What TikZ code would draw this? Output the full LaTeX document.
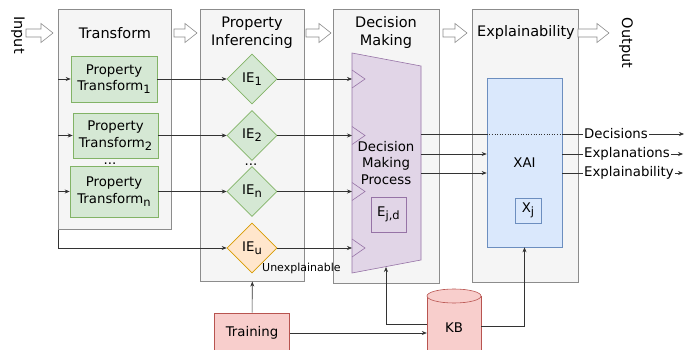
\documentclass[tikz,border=0pt]{standalone}
\usepackage{fontspec}
\setmainfont{DejaVu Sans}
\usetikzlibrary{shapes,arrows,arrows.meta,positioning}

\definecolor{panelfill}{HTML}{F5F5F5}
\definecolor{paneldraw}{HTML}{8C8C8C}
\definecolor{greenfill}{HTML}{D5E8D4}
\definecolor{greendraw}{HTML}{82B366}
\definecolor{orangefill}{HTML}{FFE6CC}
\definecolor{orangedraw}{HTML}{D79B00}
\definecolor{purplefill}{HTML}{E1D5E7}
\definecolor{purpledraw}{HTML}{9673A6}
\definecolor{bluefill}{HTML}{DAE8FC}
\definecolor{bluedraw}{HTML}{6C8EBF}
\definecolor{redfill}{HTML}{F8CECC}
\definecolor{reddraw}{HTML}{B85450}
\definecolor{linedark}{HTML}{333333}

% lowered index, as in IE_1
\newcommand{\dn}[1]{\raisebox{-0.4ex}{\fontsize{11.5}{12}\selectfont #1}}
% hollow block arrow from x=#1 to x=#2 at height #3
\newcommand{\fatarrow}[3]{%
  \draw[hollow] (#1,#3-4) -- (#2-12,#3-4) -- (#2-12,#3-9.5) -- (#2,#3)
    -- (#2-12,#3+9.5) -- (#2-12,#3+4) -- (#1,#3+4) -- cycle;}

\begin{document}
\begin{tikzpicture}[x=1pt, y=-1pt,
    font=\fontsize{13.3}{16.5}\selectfont,
    panel/.style={rectangle, draw=paneldraw, fill=panelfill, anchor=north west, line width=0.6pt},
    title/.style={font=\fontsize{14.5}{18}\selectfont, align=center},
    ptbox/.style={rectangle, draw=greendraw, fill=greenfill, align=center, inner sep=0pt, line width=0.6pt},
    ie/.style={diamond, draw=greendraw, fill=greenfill, minimum width=50pt, minimum height=50pt, aspect=1, inner sep=0pt, line width=0.6pt},
    arrow/.style={->, >={Stealth[length=5pt, width=4pt]}, line width=0.6pt, draw=linedark},
    line/.style={line width=0.6pt, draw=linedark},
    hollow/.style={draw=paneldraw, fill=white, line width=0.6pt},
    outlabel/.style={anchor=west, inner sep=1pt}
]
\useasboundingbox (0,0) rectangle (694,350);

% Stage panels
\node[panel, minimum width=113pt, minimum height=220pt] (tf) at (58,9) {};
\node[panel, minimum width=104pt, minimum height=272pt] (pi) at (200,9) {};
\node[panel, minimum width=106pt, minimum height=274pt] (dm) at (333,9) {};
\node[panel, minimum width=106pt, minimum height=273pt] (ex) at (472,9) {};

\node[title] (tftitle) at (115,33) {Transform};
\node[title] (pititle) at (252,33) {Property\\Inferencing};
\node[title] (dmtitle) at (386,33) {Decision\\Making};
\node[title] (extitle) at (526,33) {Explainability};

% Input, output and the flow between stages
\node[title, rotate=-90] (input) at (18,35) {Input};
\node[title, rotate=-90] (output) at (626,43) {Output};
\fatarrow{26}{53}{33}
\fatarrow{174}{197}{33}
\fatarrow{306}{331}{33}
\fatarrow{443}{467}{33}
\fatarrow{578}{609}{33}

% Property transforms
\node[ptbox, minimum width=86pt, minimum height=46pt] (pt1) at (114,79) {Property\\Transform\dn{1}};
\node[ptbox, minimum width=85pt, minimum height=45pt] (pt2) at (115.5,135.5) {Property\\Transform\dn{2}};
\node (tfdots) at (110,164) {...};
\node[ptbox, minimum width=88pt, minimum height=51pt] (ptn) at (114,191.5) {Property\\Transform\dn{n}};

% Inference engines
\node[ie] (ie1) at (252,79) {IE\dn{1}};
\node[ie] (ie2) at (252,135.5) {IE\dn{2}};
\node (pidots) at (251,165) {...};
\node[ie] (ien) at (252,191.5) {IE\dn{n}};
\node[ie, draw=orangedraw, fill=orangefill] (ieu) at (252,248) {IE\dn{u}};
\node[font=\fontsize{11}{13}\selectfont, anchor=west, inner sep=0pt] (unexp) at (262,268) {Unexplainable};

% Decision making process
\draw[purpledraw, fill=purplefill, line width=0.6pt] (352,53) -- (421,66) -- (421,260) -- (352,273) -- cycle;
\foreach \y in {79,135.5,191.5,248}
  \draw[purpledraw, line width=0.6pt] (352,\y-9) -- (365,\y) -- (352,\y+9);
\node[align=center, inner sep=0pt] (dmp) at (386,163) {Decision\\Making\\Process};
\node[draw=purpledraw, line width=0.6pt, minimum width=35pt, minimum height=35pt, inner sep=0pt] (ejd) at (388.5,214.5) {E\dn{j,d}};

\coordinate (p1) at (352,79);
\coordinate (p2) at (352,135.5);
\coordinate (pn) at (352,191.5);
\coordinate (pu) at (352,248);
\coordinate (o1) at (421,134);
\coordinate (o2) at (421,154);
\coordinate (o3) at (421,173);
\coordinate (dmin) at (386,267);

% XAI
\node[draw=bluedraw, fill=bluefill, line width=0.6pt, minimum width=75pt, minimum height=169pt] (xai) at (524.5,162.5) {XAI};
\node[draw=bluedraw, line width=0.6pt, minimum width=26pt, minimum height=25pt, inner sep=0pt] (xj) at (528,210.5) {X\dn{j}};

\node[outlabel] (dec) at (583,134) {Decisions};
\node[outlabel] (expn) at (583,154) {Explanations};
\node[outlabel] (expb) at (583,173) {Explainability};
\coordinate (decend) at (684,134);
\coordinate (expnend) at (683,154);
\coordinate (expbend) at (683,173);

% Training and knowledge base
\node[draw=reddraw, fill=redfill, line width=0.6pt, minimum width=75pt, minimum height=40pt] (train) at (252,333) {Training};
\fill[redfill] (427,296) rectangle (481,360);
\draw[reddraw, line width=0.6pt] (427,296) -- (427,360) (481,296) -- (481,360);
\draw[reddraw, fill=redfill, line width=0.6pt] (454,296) ellipse[x radius=27, y radius=7];
\node[minimum width=54pt, minimum height=50pt] (kb) at (454,328) {KB};

% Connections
\draw[arrow] (tf.west |- pt1) -- (pt1);
\draw[arrow] (tf.west |- pt2) -- (pt2);
\draw[arrow] (tf.west |- ptn) -- (ptn);
\draw[arrow] (tf.south west) |- (ieu);

\draw[arrow] (pt1) -- (ie1);
\draw[arrow] (pt2) -- (ie2);
\draw[arrow] (ptn) -- (ien);

\draw[arrow] (ie1) -- (p1);
\draw[arrow] (ie2) -- (p2);
\draw[arrow] (ien) -- (pn);
\draw[arrow] (ieu) -- (pu);

\draw[line] (o1) -- (xai.west |- o1);
\draw[line, dotted] (xai.west |- o1) -- (xai.east |- o1);
\draw[line] (xai.east |- o1) -- (dec);
\draw[arrow] (o2) -- (xai.west |- o2);
\draw[arrow] (o3) -- (xai.west |- o3);
\draw[line] (xai.east |- expn) -- (expn);
\draw[line] (xai.east |- expb) -- (expb);
\draw[arrow] (dec) -- (decend);
\draw[arrow] (expn) -- (expnend);
\draw[arrow] (expb) -- (expbend);

\draw[arrow] (train) -- (pi.south);
\draw[arrow] (train) -- (kb.west |- train);
\draw[arrow] ([yshift=4pt]kb.west) -| (dmin);
\draw[arrow] ([yshift=2pt]kb.east) -| (xai.south);

\end{tikzpicture}
\end{document}
